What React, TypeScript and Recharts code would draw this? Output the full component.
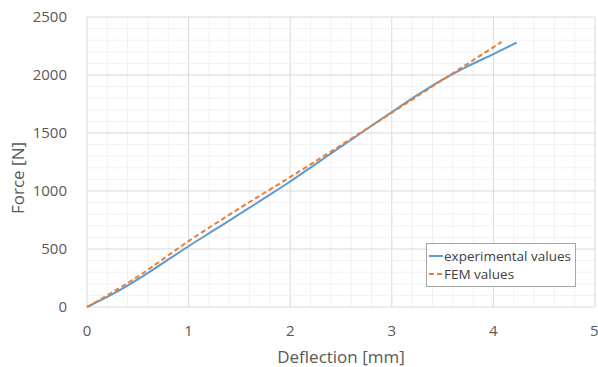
import { LineChart, Line, XAxis, YAxis, ReferenceLine } from 'recharts';

const expDeflection = [0, 0.25, 0.5, 0.75, 1, 1.25, 1.5, 1.75, 2, 2.25, 2.5, 2.75, 3, 3.25, 3.5, 3.75, 4, 4.23];
const expForce = [0, 110, 238, 380, 524, 662, 800, 940, 1082, 1232, 1382, 1532, 1680, 1826, 1960, 2076, 2180, 2280];

const femDeflection = [0, 0.5, 1, 1.5, 2, 2.5, 3, 3.5, 4, 4.08];
const femForce = [0, 262, 568, 850, 1120, 1395, 1675, 1958, 2240, 2285];

const xTicks = [0, 1, 2, 3, 4, 5];
const yTicks = [0, 500, 1000, 1500, 2000, 2500];

const expData = expDeflection.map((d, i) => ({ d, f: expForce[i] }));
const femData = femDeflection.map((d, i) => ({ d, f: femForce[i] }));

const minorX: number[] = [];
for (let v = 0.2; v < 5; v += 0.2) minorX.push(Math.round(v * 10) / 10);
const minorY: number[] = [];
for (let v = 100; v < 2500; v += 100) minorY.push(v);

const font = '"Open Sans", sans-serif';

const LegendBox = () => (
  <div
    style={{
      position: 'absolute',
      left: 426,
      top: 243,
      border: '1px solid #a6a6a6',
      background: '#fff',
      width: 150,
      height: 44,
      boxSizing: 'border-box',
      padding: '3px 0 0 2px',
      fontFamily: font,
      fontSize: 13.5,
      color: '#404040',
      lineHeight: '18px',
    }}
  >
    <div style={{ display: 'flex', alignItems: 'center' }}>
      <svg width={14} height={4}><line x1={0} y1={2} x2={14} y2={2} stroke="#5b9bd5" strokeWidth={2} /></svg>
      <span style={{ marginLeft: 1 }}>experimental values</span>
    </div>
    <div style={{ display: 'flex', alignItems: 'center' }}>
      <svg width={14} height={4}><line x1={0} y1={2} x2={14} y2={2} stroke="#ed7d31" strokeWidth={2} strokeDasharray="5 3" /></svg>
      <span style={{ marginLeft: 1 }}>FEM values</span>
    </div>
  </div>
);

export default function App() {
  return (
    <div style={{ position: 'absolute', left: 0, top: 0, width: 598, height: 367, background: '#fff' }}>
      <LineChart width={598} height={367} margin={{ top: 17, right: 3, left: 0, bottom: 0 }}>
        <XAxis
          type="number"
          dataKey="d"
          domain={[0, 5]}
          ticks={xTicks}
          axisLine={false}
          tickLine={false}
          height={60}
          tick={{ fill: '#595959', fontSize: 15, fontFamily: font }}
          tickMargin={12}
          label={{ value: 'Deflection [mm]', position: 'insideBottom', offset: 4, fill: '#595959', fontSize: 17, fontFamily: font }}
        />
        <YAxis
          type="number"
          dataKey="f"
          domain={[0, 2500]}
          ticks={yTicks}
          axisLine={false}
          tickLine={false}
          width={87}
          tick={{ fill: '#595959', fontSize: 15, fontFamily: font }}
          tickMargin={14}
          label={{ value: 'Force [N]', angle: -90, position: 'insideLeft', offset: 18, dy: 16, fill: '#595959', fontSize: 17, fontFamily: font, style: { textAnchor: 'middle' } }}
        />
        {minorX.map((v) => (
          <ReferenceLine key={`mx${v}`} x={v} stroke={Number.isInteger(v) ? '#d9d9d9' : '#f2f2f2'} strokeWidth={1} />
        ))}
        {minorY.map((v) => (
          <ReferenceLine key={`my${v}`} y={v} stroke={v % 500 === 0 ? '#d9d9d9' : '#f2f2f2'} strokeWidth={1} />
        ))}
        <ReferenceLine x={0} stroke="#d9d9d9" />
        <ReferenceLine x={5} stroke="#d9d9d9" />
        <ReferenceLine y={0} stroke="#d9d9d9" />
        <ReferenceLine y={2500} stroke="#d9d9d9" />
        <Line
          data={expData}
          dataKey="f"
          name="experimental values"
          type="monotone"
          stroke="#5b9bd5"
          strokeWidth={2}
          dot={false}
          isAnimationActive={false}
        />
        <Line
          data={femData}
          dataKey="f"
          name="FEM values"
          type="monotone"
          stroke="#ed7d31"
          strokeWidth={2}
          strokeDasharray="5 3"
          dot={false}
          isAnimationActive={false}
        />
      </LineChart>
      <LegendBox />
    </div>
  );
}
